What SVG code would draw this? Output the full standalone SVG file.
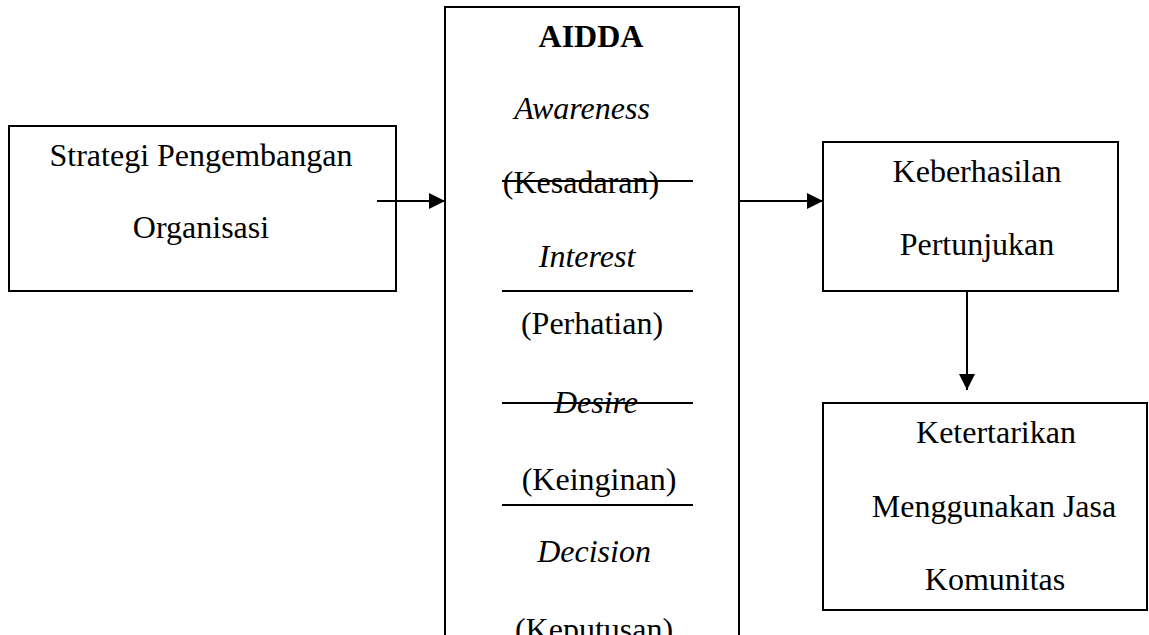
<svg xmlns="http://www.w3.org/2000/svg" width="1149" height="635" viewBox="0 0 1149 635">
<style>
.box{fill:#fff;stroke:#000;stroke-width:2}
.t{font-family:"Liberation Serif","Times New Roman",serif;font-size:32px;fill:#000;text-anchor:middle}
.i{font-style:italic}
.b{font-weight:bold}
.sep{stroke:#000;stroke-width:2}
.c{stroke:#000;stroke-width:2;fill:none}
</style>
<defs>
<marker id="ah" markerWidth="16" markerHeight="16" refX="16" refY="8" orient="auto" markerUnits="userSpaceOnUse">
<path d="M0,0 L16,8 L0,16 Z" fill="#000"/>
</marker>
</defs>
<rect width="1149" height="635" fill="#fff"/>
<g id="strategi">
<rect class="box" x="9" y="126" width="387" height="165"/>
<text class="t" x="201" y="166">Strategi Pengembangan</text>
<text class="t" x="201" y="238">Organisasi</text>
</g>
<g id="aidda">
<rect class="box" x="445" y="7" width="294" height="640"/>
<text class="t b" x="591" y="47">AIDDA</text>
<text class="t i" x="582" y="119">Awareness</text>
<text class="t" x="581" y="193">(Kesadaran)</text>
<text class="t i" x="587" y="267">Interest</text>
<text class="t" x="592" y="334">(Perhatian)</text>
<text class="t i" x="596" y="413">Desire</text>
<text class="t" x="599" y="490">(Keinginan)</text>
<text class="t i" x="594" y="562">Decision</text>
<text class="t" x="594" y="640">(Keputusan)</text>
<line class="sep" x1="502" y1="181" x2="693" y2="181"/>
<line class="sep" x1="502" y1="291" x2="693" y2="291"/>
<line class="sep" x1="502" y1="403" x2="693" y2="403"/>
<line class="sep" x1="502" y1="505" x2="693" y2="505"/>
</g>
<g id="keberhasilan">
<rect class="box" x="823" y="142" width="295" height="149"/>
<text class="t" x="977" y="182">Keberhasilan</text>
<text class="t" x="977" y="255">Pertunjukan</text>
</g>
<g id="ketertarikan">
<rect class="box" x="823" y="403" width="324" height="207"/>
<text class="t" x="996" y="443">Ketertarikan</text>
<text class="t" x="994" y="517">Menggunakan Jasa</text>
<text class="t" x="995" y="590">Komunitas</text>
</g>
<g id="connectors">
<line class="c" x1="377" y1="201" x2="445" y2="201" marker-end="url(#ah)"/>
<line class="c" x1="739" y1="201" x2="823" y2="201" marker-end="url(#ah)"/>
<line class="c" x1="967" y1="291" x2="967" y2="390" marker-end="url(#ah)"/>
</g>
</svg>
